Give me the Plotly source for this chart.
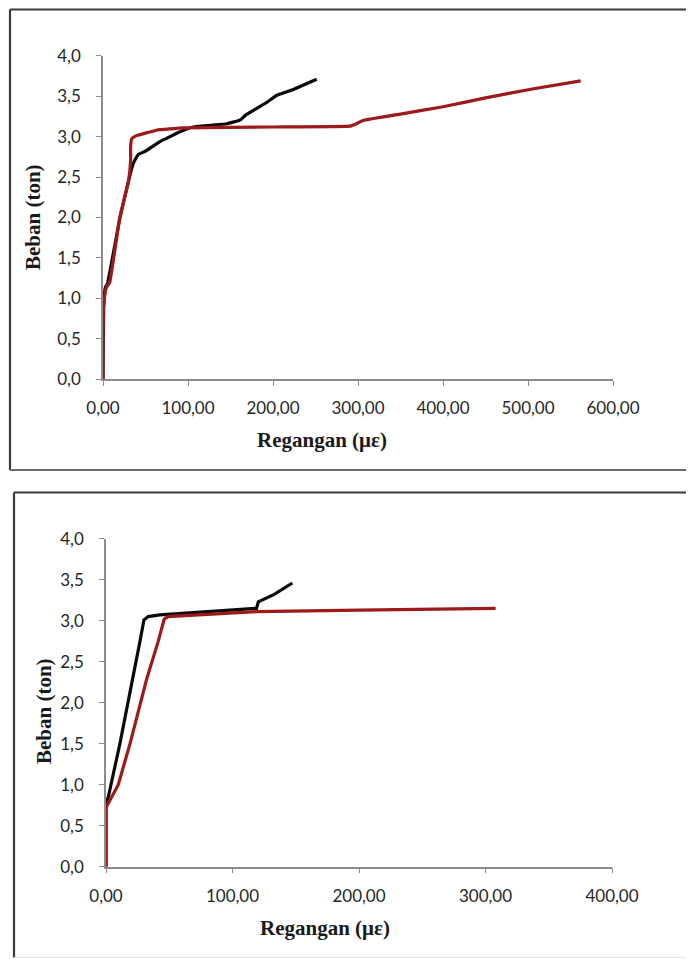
import plotly.graph_objects as go

W, H = 694, 959
OFF = 8  # page body margin

# ---- Top panel data ----
top_black_x = [0, 1, 3, 5, 20, 30, 35, 37.6, 41.6, 50, 67, 90.6, 106, 145.5, 160, 163, 168, 192, 204, 223, 251.4]
top_black_y = [0, 0.95, 1.14, 1.17, 2.0, 2.45, 2.65, 2.71, 2.78, 2.82, 2.94, 3.06, 3.12, 3.16, 3.20, 3.22, 3.27, 3.42, 3.51, 3.58, 3.71]
top_red_x = [0, 0.5, 3, 5, 8, 19.8, 30, 32.5, 32.5, 33.7, 37, 41.6, 63, 94.5, 200, 291, 296, 306, 350, 400, 450, 505, 562]
top_red_y = [0, 0.88, 1.10, 1.15, 1.20, 2.0, 2.45, 2.70, 2.88, 2.97, 3.00, 3.02, 3.08, 3.11, 3.12, 3.13, 3.15, 3.20, 3.28, 3.37, 3.48, 3.59, 3.69]

# ---- Bottom panel data ----
bot_black_x = [0, 0, 1.8, 11, 27, 30, 33.4, 42.7, 118, 119, 120.4, 133, 147.3]
bot_black_y = [0, 0.78, 0.85, 1.5, 2.76, 3.01, 3.05, 3.07, 3.15, 3.15, 3.23, 3.32, 3.46]
bot_red_x = [0, 0, 1.8, 9.7, 19, 32, 41.5, 46, 49, 119, 200, 308]
bot_red_y = [0, 0.72, 0.77, 1.0, 1.5, 2.28, 2.76, 3.02, 3.05, 3.11, 3.13, 3.15]

y_ticks = [0, 0.5, 1.0, 1.5, 2.0, 2.5, 3.0, 3.5, 4.0]
y_labels = ["0,0", "0,5", "1,0", "1,5", "2,0", "2,5", "3,0", "3,5", "4,0"]
top_x_ticks = [0, 100, 200, 300, 400, 500, 600]
top_x_labels = ["0,00", "100,00", "200,00", "300,00", "400,00", "500,00", "600,00"]
bot_x_ticks = [0, 100, 200, 300, 400]
bot_x_labels = ["0,00", "100,00", "200,00", "300,00", "400,00"]

x_title = "Regangan (με)"
y_title = "Beban (ton)"

BLACK = "#0a0a0a"
RED = "#9e1a1a"

def px_x(p):
    return (p - OFF) / W

def px_y(p):
    return (H - (p - OFF)) / H

fig = go.Figure()
fig.add_trace(go.Scatter(x=top_black_x, y=top_black_y, mode="lines", line=dict(color=BLACK, width=3.2, shape="spline", smoothing=0.3), xaxis="x", yaxis="y", showlegend=False))
fig.add_trace(go.Scatter(x=top_red_x, y=top_red_y, mode="lines", line=dict(color=RED, width=3.2, shape="spline", smoothing=0.3), xaxis="x", yaxis="y", showlegend=False))
fig.add_trace(go.Scatter(x=bot_black_x, y=bot_black_y, mode="lines", line=dict(color=BLACK, width=3.2), xaxis="x2", yaxis="y2", showlegend=False))
fig.add_trace(go.Scatter(x=bot_red_x, y=bot_red_y, mode="lines", line=dict(color=RED, width=3.2), xaxis="x2", yaxis="y2", showlegend=False))

tickfont = dict(family="Lato", size=17, color="#262626")
axis_common = dict(showgrid=False, zeroline=False, showline=True, linecolor="#8c8c8c", linewidth=1.5,
                   ticks="outside", ticklen=5, tickcolor="#8c8c8c", tickwidth=1.2, tickfont=tickfont,
                   fixedrange=True, automargin=False)

fig.update_layout(
    width=W, height=H, autosize=False,
    margin=dict(l=0, r=0, t=0, b=0, pad=0),
    paper_bgcolor="white", plot_bgcolor="white",
    xaxis=dict(domain=[px_x(103), px_x(613)], range=[0, 600], tickvals=top_x_ticks, ticktext=top_x_labels,
               anchor="y", ticklabelstandoff=8, **axis_common),
    yaxis=dict(domain=[px_y(379), px_y(55.9)], range=[0, 4], tickvals=y_ticks, ticktext=y_labels,
               anchor="x", ticklabelstandoff=12, **axis_common),
    xaxis2=dict(domain=[px_x(106), px_x(612)], range=[0, 400], tickvals=bot_x_ticks, ticktext=bot_x_labels,
                anchor="y2", ticklabelstandoff=8, **axis_common),
    yaxis2=dict(domain=[px_y(866.7), px_y(538.7)], range=[0, 4], tickvals=y_ticks, ticktext=y_labels,
                anchor="x2", ticklabelstandoff=12, **axis_common),
)

title_font = dict(family="Liberation Serif", size=21, color="#1a1a1a")
fig.add_annotation(text="<b>" + x_title + "</b>", x=px_x(322), y=px_y(440), xref="paper", yref="paper",
                   showarrow=False, font=title_font, xanchor="center", yanchor="middle")
fig.add_annotation(text="<b>" + y_title + "</b>", x=px_x(33), y=px_y(217), xref="paper", yref="paper",
                   showarrow=False, font=title_font, textangle=-90, xanchor="center", yanchor="middle")
fig.add_annotation(text="<b>" + x_title + "</b>", x=px_x(325), y=px_y(928), xref="paper", yref="paper",
                   showarrow=False, font=title_font, xanchor="center", yanchor="middle")
fig.add_annotation(text="<b>" + y_title + "</b>", x=px_x(44), y=px_y(711), xref="paper", yref="paper",
                   showarrow=False, font=title_font, textangle=-90, xanchor="center", yanchor="middle")

border = dict(color="#3a3a3a", width=2.2)
# Top box
fig.add_shape(type="line", xref="paper", yref="paper", x0=px_x(10), x1=1.0, y0=px_y(9.5), y1=px_y(9.5), line=border)
fig.add_shape(type="line", xref="paper", yref="paper", x0=px_x(10), x1=px_x(10), y0=px_y(9.5), y1=px_y(470), line=border)
fig.add_shape(type="line", xref="paper", yref="paper", x0=px_x(10), x1=1.0, y0=px_y(470), y1=px_y(470), line=dict(color="#6a6a6a", width=2))
# Bottom box
fig.add_shape(type="line", xref="paper", yref="paper", x0=px_x(14), x1=1.0, y0=px_y(492.5), y1=px_y(492.5), line=border)
fig.add_shape(type="line", xref="paper", yref="paper", x0=px_x(14), x1=px_x(14), y0=px_y(492.5), y1=px_y(957.5), line=border)
fig.add_shape(type="line", xref="paper", yref="paper", x0=px_x(14), x1=1.0, y0=px_y(957.5), y1=px_y(957.5), line=dict(color="#e6e6e6", width=1))

fig.write_html("out.html")
